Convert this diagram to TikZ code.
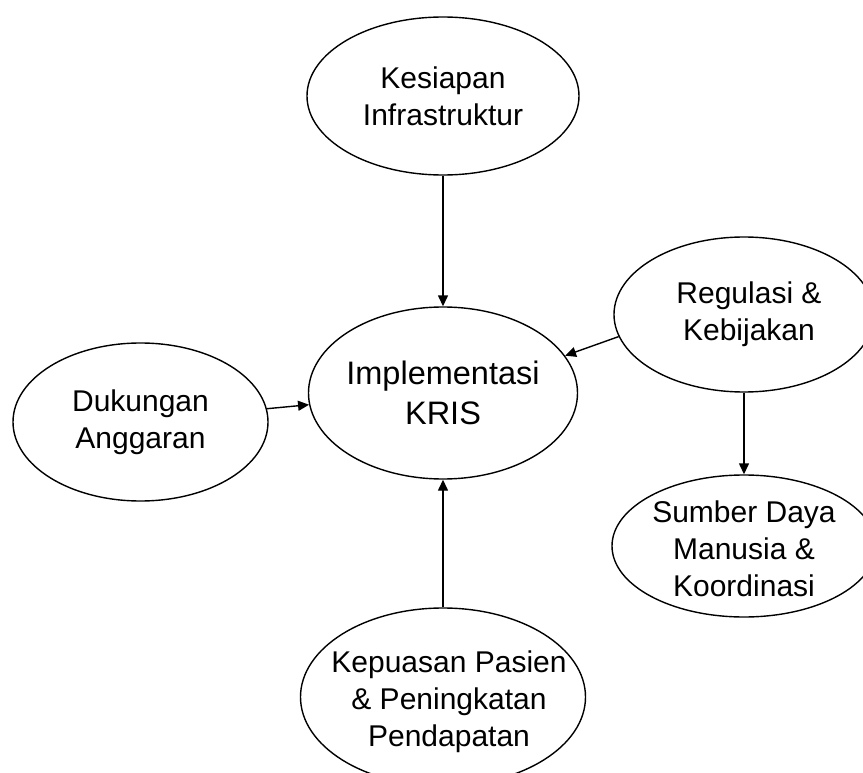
\documentclass[tikz,border=0pt]{standalone}
\usepackage{fontspec}
\setmainfont{Liberation Sans}
\usetikzlibrary{shapes.geometric,arrows.meta}
\begin{document}
\begin{tikzpicture}[x=1pt,y=-1pt,
  oval/.style={ellipse,draw,line width=1.4pt,inner sep=0pt},
  txt/.style={align=center,inner sep=0pt,font=\fontsize{30}{37}\selectfont},
  bigtxt/.style={align=center,inner sep=0pt,font=\fontsize{32.5}{40}\selectfont},
  arr/.style={line width=1.4pt,-{Triangle[length=11pt,width=10pt]}}]
\useasboundingbox (0,0) rectangle (863,773);
\clip (0,0) rectangle (863,773);
\node[oval,minimum width=272pt,minimum height=158pt,
  label={[txt]center:Kesiapan\\Infrastruktur}] (kes) at (443,96) {};
\node[oval,minimum width=269pt,minimum height=172pt,
  label={[bigtxt]center:Implementasi\\KRIS}] (impl) at (443,393) {};
\node[oval,minimum width=260pt,minimum height=155pt,
  label={[txt,xshift=5pt]center:Regulasi \&\\Kebijakan}] (reg) at (744,314.5) {};
\node[oval,minimum width=255pt,minimum height=158pt,
  label={[txt]center:Dukungan\\Anggaran}] (dk) at (140.5,422) {};
\node[oval,minimum width=264pt,minimum height=142pt,
  label={[txt,yshift=-3pt]center:Sumber Daya\\Manusia \&\\Koordinasi}] (sdm) at (744,546) {};
\node[oval,minimum width=285pt,minimum height=178pt,
  label={[txt,xshift=6pt,yshift=-5pt]center:Kepuasan Pasien\\\& Peningkatan\\Pendapatan}] (kep) at (443,697) {};
\draw[arr] (kes) -- (impl);
\draw[arr] (reg.190.4) -- (impl.17);
\draw[arr] (dk.6) -- (impl.185);
\draw[arr] (reg) -- (sdm);
\draw[arr] (kep) -- (impl);
\end{tikzpicture}
\end{document}
